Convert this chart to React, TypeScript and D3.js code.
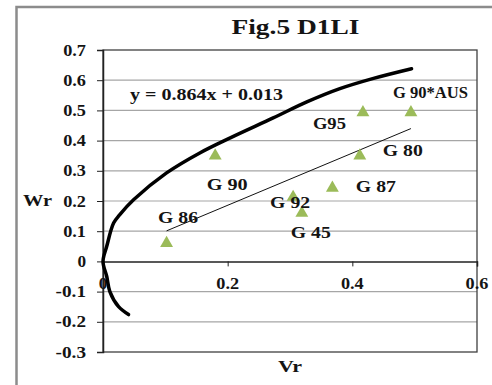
import React, { useEffect, useRef } from 'react';
import * as d3 from 'd3';

// scatter points (Vr, Wr) and their labels
const pointLabels = ['G 86', 'G 90', 'G 92', 'G 45', 'G 87', 'G 80', 'G95', 'G 90*AUS'];
const vrValues = [0.102, 0.18, 0.305, 0.319, 0.368, 0.412, 0.417, 0.494];
const wrValues = [0.06, 0.35, 0.213, 0.16, 0.243, 0.35, 0.493, 0.493];

// thick curve
const curveVr = [0.041, 0.025, 0.011, 0.006, 0.0, 0.006, 0.017, 0.027, 0.049, 0.102, 0.156, 0.205, 0.273, 0.327, 0.38, 0.434, 0.495];
const curveWr = [-0.176, -0.15, -0.1, -0.05, 0.0, 0.05, 0.127, 0.155, 0.204, 0.293, 0.36, 0.41, 0.475, 0.528, 0.572, 0.606, 0.638];

// linear trend y = 0.864x + 0.013
const slope = 0.864;
const intercept = 0.013;

const yTicks = [-0.3, -0.2, -0.1, 0, 0.1, 0.2, 0.3, 0.4, 0.5, 0.6, 0.7];
const xTicks = [0, 0.2, 0.4, 0.6];

const App = () => {
  const ref = useRef<SVGSVGElement>(null);

  useEffect(() => {
    const svg = d3.select(ref.current);
    svg.selectAll('*').remove();
    const font = '"Liberation Serif", "Times New Roman", serif';

    const x = d3.scaleLinear().domain([0, 0.6]).range([103, 477]);
    const y = d3.scaleLinear().domain([-0.3, 0.7]).range([352, 50]);
    const fmt = (d: number) => (d === 0 ? '0' : d.toFixed(1));

    // bold serif text helper, width fitted when given
    const label = (g: any, px: number, py: number, str: string, size: number, anchor = 'start', len?: number) => {
      const t = g.append('text')
        .attr('x', px).attr('y', py)
        .attr('text-anchor', anchor)
        .attr('font-family', font).attr('font-weight', 'bold').attr('font-size', size)
        .attr('fill', '#141414')
        .text(str);
      if (len) t.attr('textLength', len).attr('lengthAdjust', 'spacingAndGlyphs');
      return t;
    };

    // outer frame
    svg.append('rect')
      .attr('x', 16.5).attr('y', 7)
      .attr('width', 500).attr('height', 400)
      .attr('fill', 'white')
      .attr('stroke', '#8c8c8c')
      .attr('stroke-width', 2.5);

    label(svg, 231.5, 34, 'Fig.5 D1LI', 20, 'start', 128);

    // gridlines
    svg.append('g').selectAll('line')
      .data(yTicks.filter(d => d !== 0 && d !== 0.7 && d !== -0.3))
      .enter().append('line')
      .attr('x1', x(0)).attr('x2', x(0.6))
      .attr('y1', d => y(d)).attr('y2', d => y(d))
      .attr('stroke', '#a6a6a6').attr('stroke-width', 1.2);

    // plot border
    svg.append('rect')
      .attr('x', x(0)).attr('y', y(0.7))
      .attr('width', x(0.6) - x(0)).attr('height', y(-0.3) - y(0.7))
      .attr('fill', 'none')
      .attr('stroke', '#404040').attr('stroke-width', 1.3);

    // y axis
    const yAxis = svg.append('g').attr('transform', `translate(${x(0)},0)`)
      .call(d3.axisLeft(y).tickValues(yTicks).tickSize(6).tickFormat(() => ''));
    yAxis.select('.domain').attr('stroke', '#222').attr('stroke-width', 1.5);
    yAxis.selectAll('line').attr('stroke', '#222');
    const yLab = svg.append('g');
    yTicks.forEach(d => {
      const s = fmt(d).replace('\u2212', '-');
      label(yLab, 86, y(d) + 5.5, s, 16, 'end', s.length * 7.6 + (s.length > 1 ? 0 : 1));
    });

    // x axis on y = 0
    const xAxis = svg.append('g').attr('transform', `translate(0,${y(0)})`)
      .call(d3.axisBottom(x).tickValues(xTicks).tickSize(5).tickFormat(() => ''));
    xAxis.select('.domain').attr('stroke', '#222').attr('stroke-width', 1.5);
    xAxis.selectAll('line').attr('stroke', '#222');
    const xLab = svg.append('g');
    xTicks.forEach(d => {
      const s = fmt(d);
      label(xLab, x(d), 288.5, s, 16, 'middle', s.length * 7.6 + (s.length > 1 ? 0 : 1));
    });

    // axis titles
    label(svg, 23, 206, 'Wr', 16, 'start', 29);
    label(svg, 278, 372, 'Vr', 16, 'start', 24);

    // trend line
    const x0 = d3.min(vrValues) as number;
    const x1 = d3.max(vrValues) as number;
    svg.append('line')
      .attr('x1', x(x0)).attr('y1', y(slope * x0 + intercept))
      .attr('x2', x(x1)).attr('y2', y(slope * x1 + intercept))
      .attr('stroke', '#111').attr('stroke-width', 1);

    // thick curve
    const line = d3.line<number>()
      .x(i => x(curveVr[i]))
      .y(i => y(curveWr[i]))
      .curve(d3.curveCatmullRom.alpha(0.5));
    svg.append('path')
      .attr('d', line(d3.range(curveVr.length)))
      .attr('fill', 'none')
      .attr('stroke', '#000').attr('stroke-width', 3.5)
      .attr('stroke-linecap', 'round');

    // triangles
    const tri = d3.symbol().type(d3.symbolTriangle).size(72);
    svg.append('g').selectAll('path')
      .data(d3.range(vrValues.length))
      .enter().append('path')
      .attr('d', tri)
      .attr('transform', i => `translate(${x(vrValues[i])},${y(wrValues[i])})`)
      .attr('fill', '#9bbb59');

    // point labels: offsets in px from the point, fitted width
    const labelDx = [-8.5, -8.5, -23, -11, 23.5, 23, -50, -18];
    const labelDy = [-20.5, 34.5, 11, 25, 4, 0.5, 16, -14.5];
    const labelW = [40, 41, 40, 40, 40, 40, 33, 75];
    const pl = svg.append('g');
    pointLabels.forEach((s, i) => {
      label(pl, x(vrValues[i]) + labelDx[i], y(wrValues[i]) + labelDy[i], s, 16, 'start', labelW[i]);
    });

    label(svg, 130, 99.5, `y = ${slope}x + ${intercept}`, 16, 'start', 153);
  }, []);

  return (
    <svg ref={ref} width={492} height={385}
      style={{ position: 'absolute', left: 0, top: 0, background: 'white' }} />
  );
};

export default App;
